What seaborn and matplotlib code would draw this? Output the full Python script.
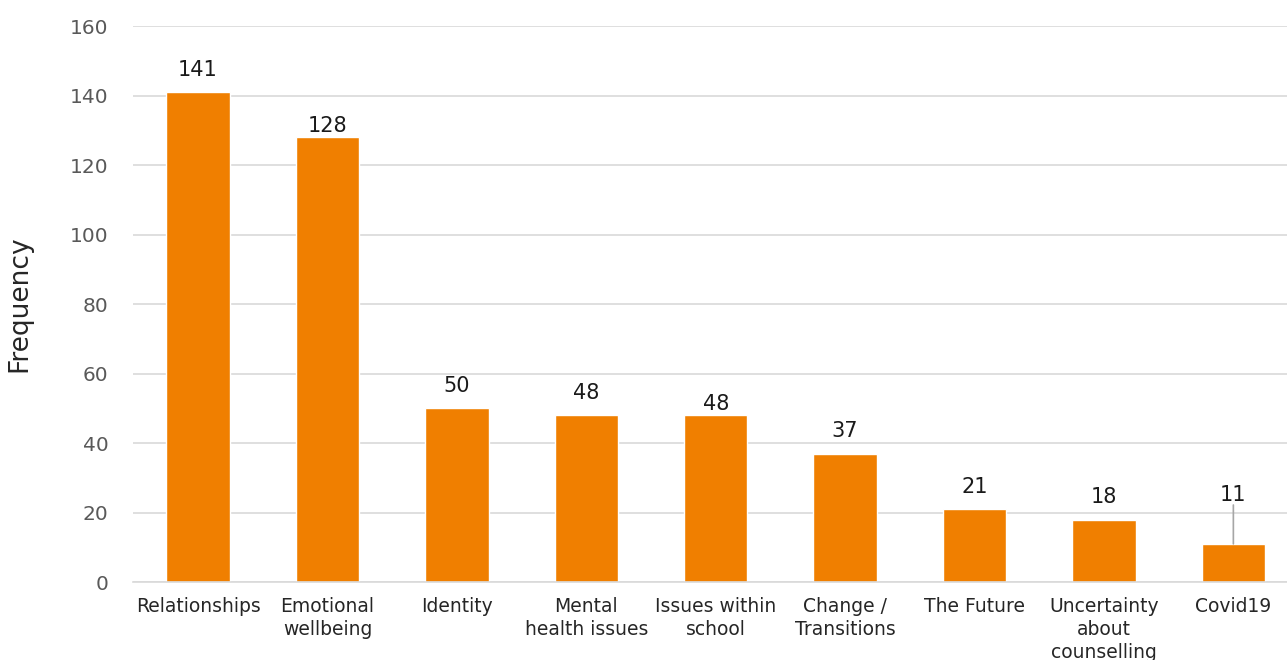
import matplotlib
matplotlib.use("Agg")
import matplotlib.pyplot as plt
import seaborn as sns
import pandas as pd

categories = ["Relationships", "Emotional\nwellbeing", "Identity", "Mental\nhealth issues",
              "Issues within\nschool", "Change /\nTransitions", "The Future",
              "Uncertainty\nabout\ncounselling", "Covid19"]
frequency = [141, 128, 50, 48, 48, 37, 21, 18, 11]

# extra vertical offset (points) of some value labels, as in the original
label_shift = {1: -8, 4: -8, 8: 19}


def main():
    df = pd.DataFrame({"category": categories, "frequency": frequency})

    sns.set_theme(style="white")
    plt.rcParams["font.family"] = ["DejaVu Sans"]

    fig = plt.figure(figsize=(12.87, 6.6), dpi=100)
    ax = fig.add_axes([0.1036, 0.118, 0.905, 0.8424])

    sns.barplot(data=df, x="category", y="frequency", color="#F07F00",
                saturation=1, width=0.49, ax=ax)

    ax.set_ylim(0, 160)
    ax.set_yticks(range(0, 161, 20))
    ax.set_xlim(-0.5, len(categories) - 0.5)
    ax.yaxis.grid(True, color="#D9D9D9", linewidth=1.2)
    ax.set_axisbelow(True)
    for s in ["top", "right", "left"]:
        ax.spines[s].set_visible(False)
    ax.spines["bottom"].set_color("#D9D9D9")
    ax.spines["bottom"].set_linewidth(1.2)

    ax.tick_params(axis="y", labelsize=14.5, labelcolor="#595959", length=0, pad=18)
    ax.tick_params(axis="x", labelsize=13.5, labelcolor="#262626", length=0, pad=11)
    for lbl in ax.get_xticklabels():
        lbl.set_linespacing(1.25)
    ax.set_xlabel("")
    ax.set_ylabel("Frequency", fontsize=19, color="#262626", labelpad=27)

    for i, v in enumerate(frequency):
        dy = 9 + label_shift.get(i, 0)
        ax.annotate(str(v), xy=(i, v), xytext=(0, dy), textcoords="offset points",
                    ha="center", va="bottom", fontsize=15, color="#1a1a1a")
        if label_shift.get(i, 0) > 0:
            ax.annotate("", xy=(i, v), xytext=(0, dy), textcoords="offset points",
                        arrowprops=dict(arrowstyle="-", color="#A6A6A6", lw=1.2,
                                        shrinkA=0, shrinkB=0))

    fig.savefig("out.png", dpi=100)


if __name__ == "__main__":
    main()
